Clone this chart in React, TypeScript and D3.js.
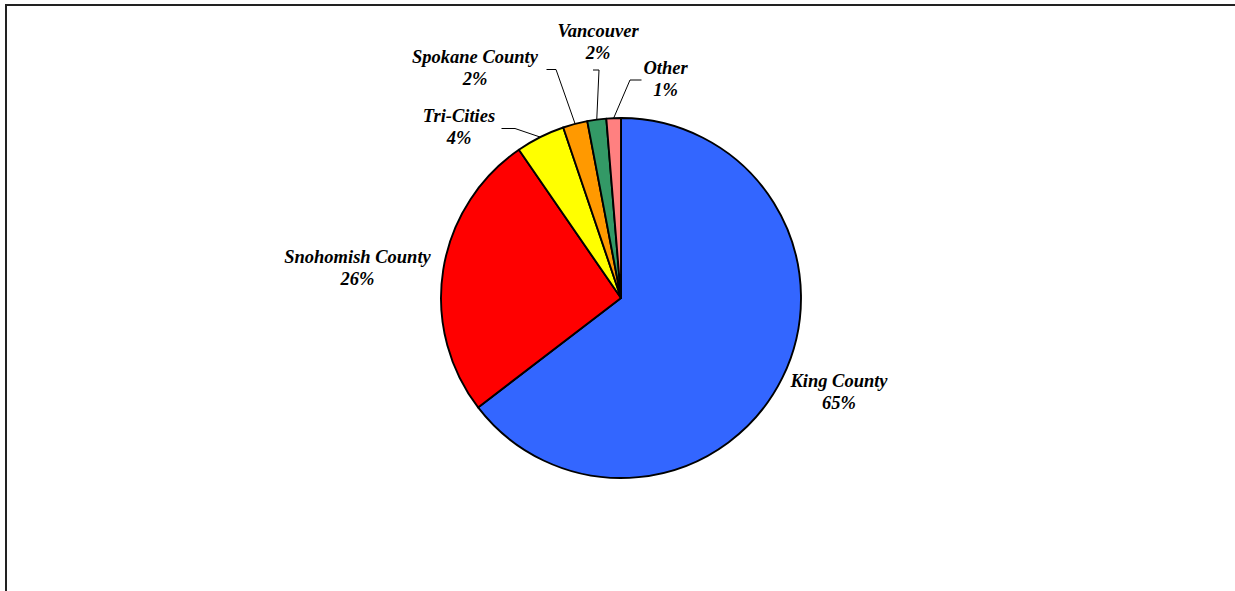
import React from "react";
import * as d3 from "d3";

const categories = ["King County", "Snohomish County", "Tri-Cities", "Spokane County", "Vancouver", "Other"];
const values = [64.6, 25.8, 4.4, 2.2, 1.7, 1.3];
const colors = ["#3366FF", "#FF0000", "#FFFF00", "#FF9900", "#339966", "#FF8080"];

// label layout: center x, first-line baseline, optional leader elbow (x,y)
const labelLayout = [
  { x: 839, y: 387, elbow: null },
  { x: 357.5, y: 263, elbow: null },
  { x: 459, y: 122, elbow: [501.5, 128.5], elbowEnd: [515, 128.5] },
  { x: 475, y: 63, elbow: [546.5, 69.5], elbowEnd: [556, 69.5] },
  { x: 598, y: 37, elbow: [593, 70], elbowEnd: [599, 70] },
  { x: 665.5, y: 74, elbow: [641.5, 80], elbowEnd: [630, 80] },
];

const W = 1235;
const H = 591;
const cx = 621;
const cy = 298;
const R = 180;

export default function App() {
  const pie = d3.pie<number>().sort(null).value((d) => d);
  const arcs = pie(values);
  const arc = d3.arc<d3.PieArcDatum<number>>().innerRadius(0).outerRadius(R);
  const edge = d3.arc<d3.PieArcDatum<number>>().innerRadius(R).outerRadius(R);
  const total = d3.sum(values);

  return (
    <svg
      width={W}
      height={H}
      style={{ position: "absolute", left: 0, top: 0, background: "#fff" }}
    >
      <rect x={6} y={5} width={W + 20} height={H + 20} fill="#fff" stroke="#222" strokeWidth={2} />
      <g transform={`translate(${cx},${cy})`}>
        {arcs.map((a, i) => (
          <path key={i} d={arc(a) || ""} fill={colors[i]} stroke="#000" strokeWidth={1.9} strokeLinejoin="round" />
        ))}
      </g>
      {arcs.map((a, i) => {
        const L = labelLayout[i] as any;
        if (!L.elbow) return null;
        const [px, py] = edge.centroid(a);
        return (
          <polyline
            key={"l" + i}
            points={`${L.elbow[0]},${L.elbow[1]} ${L.elbowEnd[0]},${L.elbowEnd[1]} ${px + cx},${py + cy}`}
            fill="none"
            stroke="#000"
            strokeWidth={1}
          />
        );
      })}
      {categories.map((c, i) => {
        const L = labelLayout[i];
        return (
          <text
            key={"t" + i}
            x={L.x}
            y={L.y}
            textAnchor="middle"
            fontFamily="'Liberation Serif', 'Times New Roman', serif"
            fontWeight="bold"
            fontStyle="italic"
            fontSize={18.5}
            fill="#000"
          >
            <tspan x={L.x}>{c}</tspan>
            <tspan x={L.x} dy={21.5}>{Math.round((values[i] / total) * 100)}%</tspan>
          </text>
        );
      })}
    </svg>
  );
}
